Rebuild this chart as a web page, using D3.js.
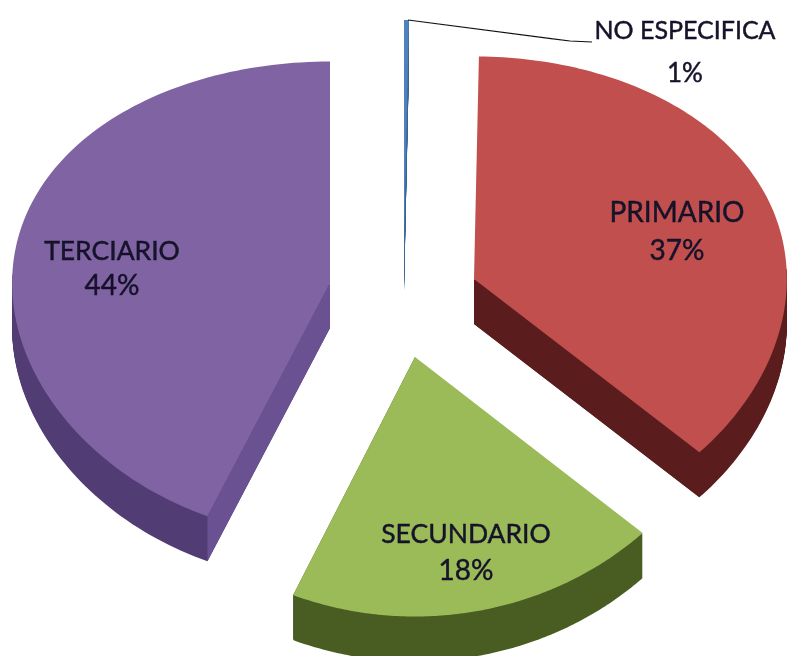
<!DOCTYPE html>
<html>
<head>
<meta charset="utf-8">
<script src="https://cdnjs.cloudflare.com/ajax/libs/d3/7.8.5/d3.min.js"></script>
<style>html,body{margin:0;padding:0;background:#fff}svg{display:block}</style>
</head>
<body>
<div id="chart"></div>
<script>
const categories = ["NO ESPECIFICA", "PRIMARIO", "SECUNDARIO", "TERCIARIO"];
const values = [0.25, 36.95, 19.1, 43.7];
const percentLabels = ["1%", "37%", "18%", "44%"];
const topColors = ["#4f81bd", "#c0504d", "#9bbb59", "#8064a2"];
const wallColors = ["#3a6496", "#5a1f1e", "#4a5d23", "#513c73"];
const cutColors = ["#3a6496", "#5a1f1e", "#4a5d23", "#6a5191"];
const explodeX = [404, 474, 415, 330];
const explodeY = [246, 279, 357, 283];
const verticalScale = [1, 0.985, 1, 0.98];
const horizontalScale = [1, 0.99, 1, 1.006];
const labelX = [685, 677, 466, 112];
const labelY = [33, 215, 536, 253];
const percentY = [75, 253, 573, 288];
const labelSize = [25, 28, 26.5, 26.5];
const percentSize = [26, 28, 28, 28];
const leader = [[408, 20], [570, 41], [592, 42]];

const W = 792, H = 656;
const radiusX = 316, radiusY = 241.6, tilt = 0.069, depth = 45;

const svg = d3.select("#chart").append("svg").attr("width", W).attr("height", H);
svg.append("defs").append("filter").attr("id", "soft")
  .append("feGaussianBlur").attr("stdDeviation", 0.55);
const root = svg.append("g").attr("filter", "url(#soft)");

const arcs = d3.pie().value(d => d).sort(null)(values);
const px = d3.scaleLinear().domain([-1, 1]).range([-radiusX, radiusX]);
const py = d3.scaleLinear().domain([-1, 1]).range([radiusY, -radiusY]);

function project(i, t) {
  const c = Math.cos(t);
  return [explodeX[i] + horizontalScale[i] * px(Math.sin(t)),
          explodeY[i] + verticalScale[i] * py(c / (1 + tilt * c))];
}
function sweep(i) {
  const a = arcs[i], n = 120;
  return d3.range(n + 1).map(k => a.startAngle + (a.endAngle - a.startAngle) * k / n);
}
const apexOf = i => [explodeX[i], explodeY[i]];
const line = d3.line().curve(d3.curveLinearClosed);

// draw slices back to front
[0, 3, 1, 2].forEach(i => {
  const g = root.append("g");
  const angles = sweep(i);
  const face = line([apexOf(i), ...angles.map(t => project(i, t))]);
  // outer wall: extrude only the part of the rim that faces the viewer
  const front = angles.filter(t => Math.cos(t) <= 0.05);
  const wall = front.length ? line([apexOf(i), ...front.map(t => project(i, t))]) : face;
  g.selectAll("path.wall").data(d3.range(1, depth + 1)).join("path")
    .attr("class", "wall").attr("d", wall)
    .attr("transform", d => `translate(0,${d})`)
    .attr("fill", wallColors[i]);
  // cut wall on the end radius
  const apex = apexOf(i);
  const edge = project(i, i === 3 ? arcs[i].startAngle : arcs[i].endAngle);
  g.append("path")
    .attr("d", line([apex, edge, [edge[0], edge[1] + depth], [apex[0], apex[1] + depth]]))
    .attr("fill", cutColors[i]);
  g.append("path").attr("d", face).attr("fill", topColors[i]);
});

root.append("path")
  .attr("d", d3.line()(leader))
  .attr("fill", "none").attr("stroke", "#111").attr("stroke-width", 1.2);

const font = "Lato, 'Open Sans', sans-serif";
const text = root.append("g").attr("font-family", font).attr("text-anchor", "middle")
  .attr("dominant-baseline", "middle").attr("fill", "#16122a")
  .attr("stroke", "#16122a").attr("stroke-width", 0.45);
categories.forEach((c, i) => {
  text.append("text").attr("x", labelX[i]).attr("y", labelY[i]).attr("font-size", labelSize[i]).text(c);
  text.append("text").attr("x", labelX[i]).attr("y", percentY[i]).attr("font-size", percentSize[i]).text(percentLabels[i]);
});
</script>
</body>
</html>
